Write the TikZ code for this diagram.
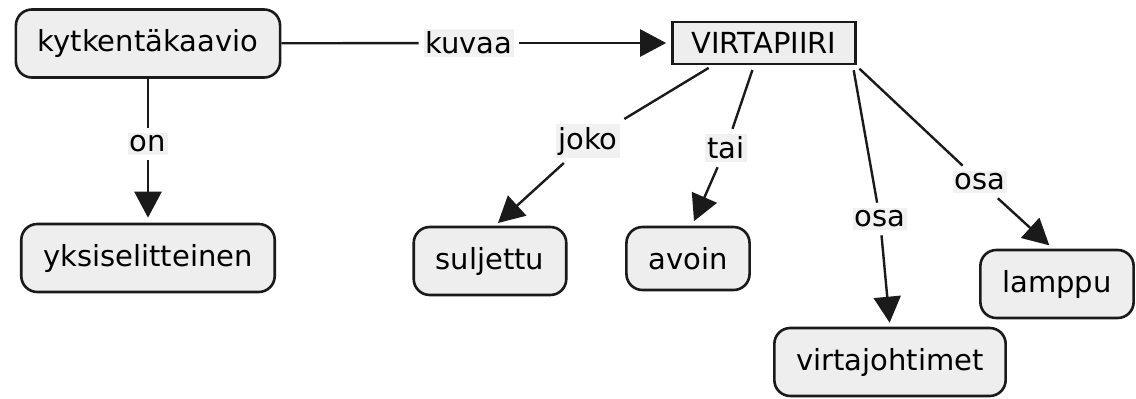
\documentclass[tikz,border=0pt]{standalone}
\usepackage{fontspec}
\setmainfont{DejaVu Sans}
\usetikzlibrary{arrows.meta}
\definecolor{boxfill}{HTML}{EEEEEE}
\definecolor{labelfill}{HTML}{F1F1F1}
\definecolor{edge}{HTML}{1A1A1A}
\begin{document}
\begin{tikzpicture}[x=1pt,y=-1pt,
  concept/.style={draw=edge,line width=2.6pt,fill=boxfill,rounded corners=16pt,
    inner xsep=22pt,minimum height=68pt,font=\fontsize{29}{34}\selectfont},
  topic/.style={draw=edge,line width=2.6pt,fill=boxfill,
    inner xsep=19pt,minimum height=42pt,font=\fontsize{29}{34}\selectfont},
  linklabel/.style={fill=labelfill,inner xsep=2pt,inner ysep=3pt,outer sep=5pt,
    font=\fontsize{29}{34}\selectfont},
  link/.style={draw=edge,line width=2.4pt},
  linkarrow/.style={link,-{Triangle[length=26pt,width=27pt]}}
]
\useasboundingbox (0,0) rectangle (1136,399);

% concepts
\node[concept] (kyt) at (148,43.5) {kytkentäkaavio};
\node[topic]   (vp)  at (764,43) {VIRTAPIIRI};
\node[concept] (yks) at (148,258) {yksiselitteinen};
\node[concept] (sul) at (490,261) {suljettu};
\node[concept,minimum height=63pt] (avo) at (688,258.5) {avoin};
\node[concept] (vj)  at (890,362) {virtajohtimet};
\node[concept] (lam) at (1057,284) {lamppu};

% linking phrases
\node[linklabel] (kuvaa) at (469,43) {kuvaa};
\node[linklabel] (on)    at (148,144) {on};
\node[linklabel] (joko)  at (588,141) {joko};
\node[linklabel] (tai)   at (726,148) {tai};
\node[linklabel] (osa1)  at (880,219) {osa};
\node[linklabel] (osa2)  at (980,182) {osa};

% kytkentäkaavio links
\draw[link] (kyt) -- (kuvaa);
\draw[linkarrow,shorten >=5pt] (kuvaa) -- (vp);
\draw[link] (kyt) -- (on);
\draw[linkarrow,shorten >=5pt] (on) -- (yks);

% VIRTAPIIRI links
\draw[link,shorten <=5pt] ([xshift=-51pt]vp.south) -- (joko);
\draw[linkarrow,shorten >=4pt] (joko) -- ([xshift=5pt]sul.north);
\draw[link,shorten <=5pt] ([xshift=-10pt]vp.south) -- (tai);
\draw[linkarrow,shorten >=5pt] (tai) -- ([xshift=4pt]avo.north);
\draw[link,shorten <=5pt] ([xshift=-4pt]vp.south east) -- (osa1);
\draw[linkarrow,shorten >=4pt] (osa1) -- (vj.north);
\draw[link,shorten <=5pt] ([xshift=-1pt]vp.south east) -- (osa2);
\draw[linkarrow,shorten >=5pt] (osa2) -- ([xshift=-4pt]lam.north);
\end{tikzpicture}
\end{document}
